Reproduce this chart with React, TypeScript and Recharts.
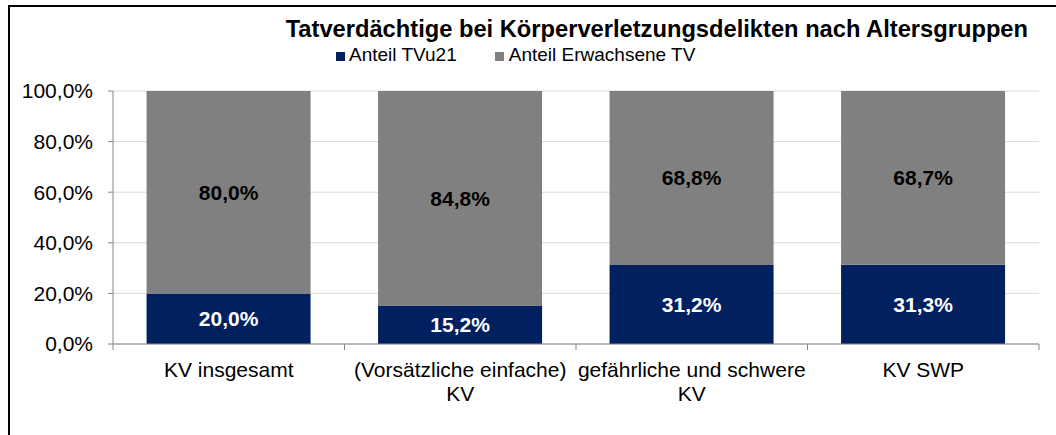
import { BarChart, Bar, XAxis, YAxis, CartesianGrid, LabelList } from "recharts";

const categories = [
  "KV insgesamt",
  "(Vorsätzliche einfache)\nKV",
  "gefährliche und schwere\nKV",
  "KV SWP",
];
const anteilTVu21 = [20.0, 15.2, 31.2, 31.3];
const anteilErwachsene = [80.0, 84.8, 68.8, 68.7];
const yTicks = [0, 20, 40, 60, 80, 100];

const NAVY = "#002060";
const GRAY = "#808080";
const AXIS = "#868686";
const FONT = "'Liberation Sans', Arial, sans-serif";

const W = 1046;
const H = 428;
const M = { top: 84, right: 17, bottom: 0, left: 8 };
const Y_W = 95;
const X_H = 91;
const plotLeft = M.left + Y_W;
const plotW = W - M.right - plotLeft;
const band = plotW / categories.length;

const fmt = (v: number) => `${v.toFixed(1).replace(".", ",")}%`;

const data = categories.map((name, i) => ({
  name,
  tv: anteilTVu21[i],
  ew: anteilErwachsene[i],
}));

const XTick = (props: any) => {
  const { x, y, payload, index } = props;
  const lines = String(payload.value).split("\n");
  const top = y - 8;
  return (
    <g>
      {index === 0 && (
        <line x1={x - band / 2} x2={x - band / 2} y1={top} y2={top + 6} stroke={AXIS} />
      )}
      <line x1={x + band / 2} x2={x + band / 2} y1={top} y2={top + 6} stroke={AXIS} />
      <text x={x} y={top + 33} textAnchor="middle" fontSize={21} fontFamily={FONT} fill="#000">
        {lines.map((l, i) => (
          <tspan key={i} x={x} dy={i === 0 ? 0 : 24}>
            {l}
          </tspan>
        ))}
      </text>
    </g>
  );
};

const LegendBox = () => (
  <div
    style={{
      position: "absolute",
      left: 326,
      top: 37,
      display: "flex",
      fontFamily: FONT,
      fontSize: 19,
      color: "#000",
      whiteSpace: "nowrap",
    }}
  >
    <span style={{ display: "flex", alignItems: "center", marginRight: 38 }}>
      <span style={{ width: 9, height: 9, background: NAVY, marginRight: 4, marginTop: 3 }} />
      Anteil TVu21
    </span>
    <span style={{ display: "flex", alignItems: "center" }}>
      <span style={{ width: 9, height: 9, background: GRAY, marginRight: 5, marginTop: 3 }} />
      Anteil Erwachsene TV
    </span>
  </div>
);

export default function App() {
  return (
    <div
      style={{
        position: "absolute",
        left: 8,
        top: 5,
        width: W,
        height: H,
        borderTop: "2px solid #000",
        borderLeft: "2px solid #000",
        background: "#fff",
      }}
    >
      <div
        style={{
          position: "absolute",
          right: 28,
          top: 9,
          fontFamily: FONT,
          fontWeight: "bold",
          fontSize: 23.7,
          color: "#000",
          whiteSpace: "nowrap",
          zIndex: 2,
        }}
      >
        Tatverdächtige bei Körperverletzungsdelikten nach Altersgruppen
      </div>
      <LegendBox />
      <BarChart width={W} height={H} data={data} margin={M} barCategoryGap="14.5%">
        <CartesianGrid vertical={false} stroke="#d9d9d9" />
        <XAxis
          dataKey="name"
          interval={0}
          stroke={AXIS}
          tickLine={false}
          tick={<XTick />}
          height={X_H}
        />
        <YAxis
          domain={[0, 100]}
          ticks={yTicks}
          tickFormatter={fmt}
          width={Y_W}
          stroke={AXIS}
          tickSize={5}
          tickMargin={15}
          tick={{ fill: "#000", fontSize: 21, fontFamily: FONT }}
        />
        <Bar dataKey="tv" stackId="a" fill={NAVY} isAnimationActive={false}>
          <LabelList
            dataKey="tv"
            position="center"
            formatter={(v: any) => fmt(Number(v))}
            fill="#fff"
            fontSize={21}
            fontWeight="bold"
            fontFamily={FONT}
          />
        </Bar>
        <Bar dataKey="ew" stackId="a" fill={GRAY} isAnimationActive={false}>
          <LabelList
            dataKey="ew"
            position="center"
            formatter={(v: any) => fmt(Number(v))}
            fill="#000"
            fontSize={21}
            fontWeight="bold"
            fontFamily={FONT}
          />
        </Bar>
      </BarChart>
    </div>
  );
}
